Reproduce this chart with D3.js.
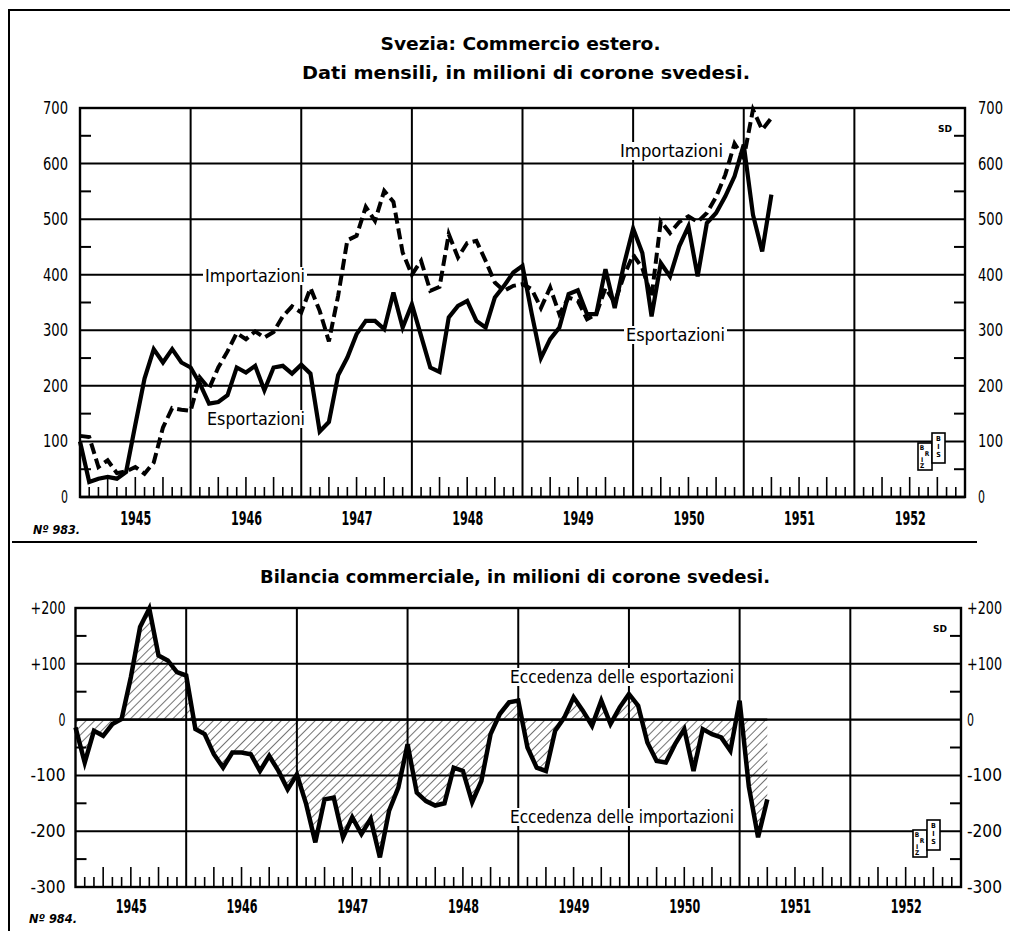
<!DOCTYPE html>
<html><head><meta charset="utf-8">
<script src="https://cdn.jsdelivr.net/npm/d3@7"></script>
<style>
html,body{margin:0;padding:0;background:#fff;}
svg{display:block;}
</style></head><body>
<svg id="c" width="1010" height="931"></svg>
<script>
// ---------- DATA (monthly, Jan 1945 = index 0) ----------
const years = ["1945","1946","1947","1948","1949","1950","1951","1952"];
const exportsVals = [100,27,33,36,33,45,130,213,266,242,266,242,
  233,204,168,171,183,233,224,236,192,233,236,222,
  238,222,118,135,219,251,293,317,317,302,368,305,
  347,290,233,225,323,344,353,317,305,359,380,404,
  416,330,250,284,305,365,372,329,329,410,340,418,
  483,439,325,421,397,451,487,397,493,511,541,577,
  634,508,442,544];
const importsVals = [110,108,54,66,43,46,54,42,62,125,160,157,
  155,215,195,233,262,295,284,298,287,297,325,343,
  332,376,335,280,362,462,470,522,497,551,531,440,
  400,425,371,378,473,431,457,461,425,386,371,380,
  383,374,340,377,329,359,353,320,329,376,350,398,
  436,412,360,496,475,495,505,495,511,540,580,636,
  610,697,661,682];
const balanceVals = [-14,-77,-20,-29,-8,1,76,166,199,115,106,85,
  79,-17,-26,-62,-86,-59,-59,-62,-92,-65,-92,-125,
  -98,-151,-220,-143,-140,-211,-175,-205,-178,-247,-163,-122,
  -44,-131,-146,-154,-150,-86,-92,-148,-110,-26,10,31,
  34,-50,-86,-92,-20,4,40,16,-11,34,-8,22,
  46,25,-41,-74,-77,-44,-17,-92,-17,-26,-32,-56,
  34,-120,-211,-143];
const topTicks = [0,100,200,300,400,500,600,700];
const topTickLabels = ["0","100","200","300","400","500","600","700"];
const balTicks = [-300,-200,-100,0,100,200];
const balTickLabels = ["-300","-200","-100","0","+100","+200"];

const FONT = '"Liberation Sans Narrow","DejaVu Sans Condensed","Roboto Condensed","Liberation Sans",sans-serif';
const svg = d3.select("#c");

// defs: hatch pattern
const defs = svg.append("defs");
defs.append("pattern").attr("id","hatch").attr("patternUnits","userSpaceOnUse")
  .attr("width",6).attr("height",6).attr("patternTransform","rotate(45)")
  .append("line").attr("x1",0).attr("y1",0).attr("x2",0).attr("y2",6)
  .attr("stroke","#000").attr("stroke-width",1.1);

// page frame
svg.append("line").attr("x1",8).attr("x2",1010).attr("y1",10).attr("y2",10).attr("stroke","#000").attr("stroke-width",2);
svg.append("line").attr("x1",9).attr("x2",9).attr("y1",10).attr("y2",931).attr("stroke","#000").attr("stroke-width",2);
svg.append("line").attr("x1",12).attr("x2",977).attr("y1",542).attr("y2",542).attr("stroke","#000").attr("stroke-width",2);

function txt(g, s, x, y, opts) {
  const t = g.append("text").attr("x",x).attr("y",y).text(s)
    .attr("font-family",FONT).attr("font-size",opts.size||16)
    .attr("font-weight",opts.weight||"normal")
    .attr("text-anchor",opts.anchor||"start");
  if (opts.len) t.attr("textLength",opts.len).attr("lengthAdjust","spacingAndGlyphs");
  if (opts.italic) t.attr("font-style","italic");
  return t;
}
function labelBg(g, s, x, y, len, size, weight) {
  const gg = g.append("g");
  const r = gg.append("rect").attr("fill","#fff");
  const t = txt(gg, s, x, y, {size:size, len:len, weight:weight});
  const b = t.node().getBBox();
  r.attr("x",b.x-2).attr("y",b.y+1).attr("width",b.width+4).attr("height",b.height-2);
  return gg;
}

function panel(cfg) {
  const g = svg.append("g");
  const x = d3.scaleLinear().domain([0,96]).range(cfg.xr);
  const y = d3.scaleLinear().domain(cfg.yd).range(cfg.yr);
  const [x0,x1] = cfg.xr, [yb,yt] = cfg.yr;
  // horizontal grid
  g.append("g").selectAll("line").data(cfg.ticks).join("line")
    .attr("x1",x0).attr("x2",x1).attr("y1",d=>y(d)).attr("y2",d=>y(d))
    .attr("stroke","#000").attr("stroke-width",d=>d===0?2.4:2);
  // vertical year grid
  g.append("g").selectAll("line").data(d3.range(12,96,12)).join("line")
    .attr("x1",d=>x(d)).attr("x2",d=>x(d)).attr("y1",yt).attr("y2",yb)
    .attr("stroke","#000").attr("stroke-width",2);
  // month ticks
  g.append("g").selectAll("line").data(d3.range(1,96).filter(m=>m%12!==0)).join("line")
    .attr("x1",d=>x(d)).attr("x2",d=>x(d)).attr("y1",yb).attr("y2",d=>yb-(d%3===0?20:10))
    .attr("stroke","#000").attr("stroke-width",1.6);
  // half-step y ticks
  const mids = cfg.ticks.slice(0,-1).map((d,i)=>(d+cfg.ticks[i+1])/2);
  g.append("g").selectAll("line").data(mids).join("line")
    .attr("x1",x0).attr("x2",x0+11).attr("y1",d=>y(d)).attr("y2",d=>y(d))
    .attr("stroke","#000").attr("stroke-width",2);
  g.append("g").selectAll("line").data(mids).join("line")
    .attr("x1",x1-11).attr("x2",x1).attr("y1",d=>y(d)).attr("y2",d=>y(d))
    .attr("stroke","#000").attr("stroke-width",2);
  // frame
  g.append("rect").attr("x",x0).attr("y",yt).attr("width",x1-x0).attr("height",yb-yt)
    .attr("fill","none").attr("stroke","#000").attr("stroke-width",2.4);
  // axes labels
  const fmt = (d)=>cfg.labels[cfg.ticks.indexOf(d)];
  const aL = g.append("g").attr("transform",`translate(${x0},0)`)
    .call(d3.axisLeft(y).tickValues(cfg.ticks).tickFormat(fmt).tickSize(0).tickPadding(cfg.padL));
  const aR = g.append("g").attr("transform",`translate(${x1},0)`)
    .call(d3.axisRight(y).tickValues(cfg.ticks).tickFormat(fmt).tickSize(0).tickPadding(cfg.padR));
  [aL,aR].forEach(a=>{
    a.select(".domain").remove();
    a.attr("font-family",FONT).attr("font-size",17);
    a.selectAll("text").attr("textLength",d=>cfg.lab_w(fmt(d))).attr("lengthAdjust","spacingAndGlyphs");
  });
  const aB = g.append("g").attr("transform",`translate(0,${yb})`)
    .call(d3.axisBottom(x).tickValues(d3.range(6,96,12)).tickFormat((d,i)=>years[i]).tickSize(0).tickPadding(cfg.padB));
  aB.select(".domain").remove();
  aB.attr("font-family",FONT).attr("font-size",19).attr("font-weight","bold");
  aB.selectAll("text").attr("textLength",31).attr("lengthAdjust","spacingAndGlyphs");
  return {g,x,y};
}

// ---------- TOP PANEL ----------
const labW = s => s.length===1?7:(s.length===3?25:36);
const P1 = panel({xr:[80,965], yr:[497,108], yd:[0,700], ticks:topTicks, labels:topTickLabels,
  padL:12, padR:13, padB:15, lab_w:labW});

// titles
txt(svg,"Svezia: Commercio estero.",520.5,50,{size:17,weight:"bold",anchor:"middle",len:280});
txt(svg,"Dati mensili, in milioni di corone svedesi.",526,79,{size:17,weight:"bold",anchor:"middle",len:448});

// in-plot labels
labelBg(P1.g,"Importazioni",205,282,100,17,"normal");
labelBg(P1.g,"Esportazioni",207,425,98,17,"normal");
labelBg(P1.g,"Importazioni",620,157,103,17,"normal");
labelBg(P1.g,"Esportazioni",626,341,99,17,"normal");

const line1 = d3.line().x((d,i)=>P1.x(i)).y(d=>P1.y(d)).curve(d3.curveLinear);
P1.g.append("path").attr("d",line1(importsVals)).attr("fill","none").attr("stroke","#000")
  .attr("stroke-width",4).attr("stroke-dasharray","11,5").attr("stroke-linejoin","miter");
P1.g.append("path").attr("d",line1(exportsVals)).attr("fill","none").attr("stroke","#000")
  .attr("stroke-width",4.2).attr("stroke-linejoin","miter");

txt(svg,"Nº 983.",33,534,{size:12,weight:"bold",italic:true,len:47});

// ---------- BOTTOM PANEL ----------
const labW2 = s => s.length===1?7:35;
const P2 = panel({xr:[75.5,961], yr:[887,608], yd:[-300,200], ticks:balTicks, labels:balTickLabels,
  padL:10, padR:6, padB:13, lab_w:labW2});

txt(svg,"Bilancia commerciale, in milioni di corone svedesi.",515,583,{size:17,weight:"bold",anchor:"middle",len:510});

labelBg(P2.g,"Eccedenza delle esportazioni",510,683,224,17,"normal");
labelBg(P2.g,"Eccedenza delle importazioni",510,823,224,17,"normal");

const area2 = d3.area().x((d,i)=>P2.x(i)).y0(P2.y(0)).y1(d=>P2.y(d));
P2.g.append("path").attr("d",area2(balanceVals)).attr("fill","url(#hatch)").attr("stroke","none");
P2.g.append("line").attr("x1",P2.x(0)).attr("x2",P2.x(75)).attr("y1",P2.y(0)).attr("y2",P2.y(0))
  .attr("stroke","#000").attr("stroke-width",2.4);
const line2 = d3.line().x((d,i)=>P2.x(i)).y(d=>P2.y(d));
P2.g.append("path").attr("d",line2(balanceVals)).attr("fill","none").attr("stroke","#000")
  .attr("stroke-width",4.5).attr("stroke-linejoin","miter");

txt(svg,"Nº 984.",29,923,{size:12,weight:"bold",italic:true,len:48});

// ---------- small marks: SD and logo ----------
function logo(x,y){
  const g = svg.append("g").attr("transform",`translate(${x},${y})`);
  g.append("rect").attr("x",0).attr("y",10).attr("width",14).attr("height",27).attr("fill","#fff").attr("stroke","#000").attr("stroke-width",1.6);
  g.append("rect").attr("x",14).attr("y",0).attr("width",13).attr("height",30).attr("fill","#fff").attr("stroke","#000").attr("stroke-width",1.6);
  ["B","R","I","Z"].forEach((c,i)=>txt(g,c,i===1?9:4,17+i*6+(i>1?0:0),{size:6.5,weight:"bold",anchor:"middle"}));
  ["B","I","S"].forEach((c,i)=>txt(g,c,20.5,8+i*8,{size:7,weight:"bold",anchor:"middle"}));
}
txt(svg,"SD",938,132,{size:8,weight:"bold",len:14});
txt(svg,"SD",933,632,{size:8,weight:"bold",len:14});
logo(918,433);
logo(913,820);
</script>
</body></html>
